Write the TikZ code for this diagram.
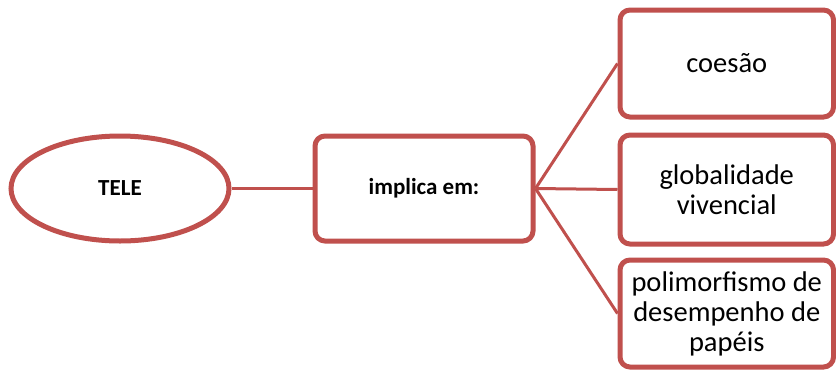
\documentclass[tikz,border=0pt]{standalone}
\usepackage{fontspec}
\setmainfont{Carlito}
\usetikzlibrary{shapes.geometric}
\definecolor{accred}{RGB}{192,80,77}
\begin{document}
\begin{tikzpicture}[x=1pt,y=-1pt,
  box/.style={draw=accred,line width=5pt,rounded corners=10pt,fill=white,inner sep=0pt,align=center},
  oval/.style={ellipse,draw=accred,line width=5pt,fill=white,inner sep=0pt},
  small/.style={font=\fontsize{23}{27}\selectfont\bfseries},
  big/.style={font=\fontsize{28.5}{30}\selectfont},
  link/.style={draw=accred,line width=3pt}]
\useasboundingbox (0,0) rectangle (836,373);
\fill[white] (0,0) rectangle (836,373);
\node[oval,small,minimum width=218pt,minimum height=105pt] (tele) at (120,188.5) {TELE};
\node[box,small,minimum width=218pt,minimum height=105pt] (impl) at (424,188.5) {implica em:};
\node[box,big,minimum width=213.5pt,minimum height=107pt] (c1) at (726.75,63.5) {coesão};
\node[box,big,minimum width=213.5pt,minimum height=109pt] (c2) at (726.75,189.5) {globalidade\\vivencial};
\node[box,big,minimum width=213.5pt,minimum height=107pt] (c3) at (726.75,313.5) {polimorfismo de\\desempenho de\\papéis};
\path[link] (tele.east) -- (impl.west);
\path[link] (impl.east) -- (c1.west);
\path[link] (impl.east) -- (c2.west);
\path[link] (impl.east) -- (c3.west);
\end{tikzpicture}
\end{document}
